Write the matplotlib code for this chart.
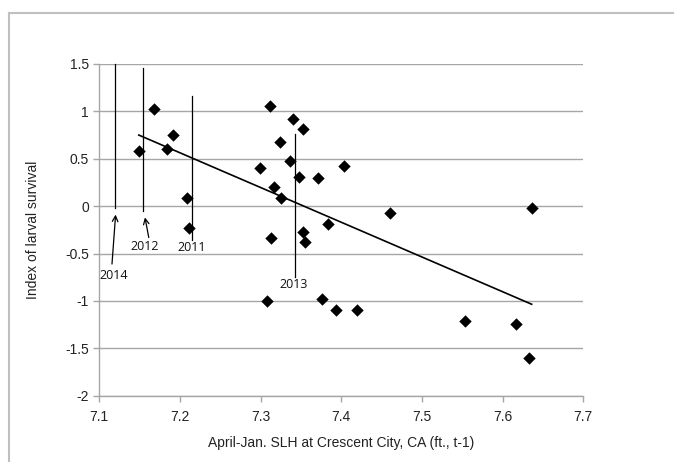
import matplotlib
matplotlib.use('Agg')
import matplotlib.pyplot as plt
from matplotlib.lines import Line2D

plt.rcParams['font.family'] = ['Liberation Sans', 'DejaVu Sans']

# scatter data: April-Jan. SLH (ft.) vs index of larval survival
slh = [7.149, 7.168, 7.191, 7.184, 7.209, 7.211, 7.299, 7.312, 7.324, 7.317,
       7.325, 7.313, 7.337, 7.340, 7.353, 7.347, 7.353, 7.355, 7.371, 7.384,
       7.403, 7.461, 7.636, 7.308, 7.376, 7.393, 7.419, 7.553, 7.616, 7.633]
survival = [0.587, 1.03, 0.747, 0.60, 0.085, -0.226, 0.403, 1.057, 0.679, 0.20,
            0.085, -0.335, 0.477, 0.916, 0.81, 0.312, -0.268, -0.374, 0.30, -0.187,
            0.42, -0.067, -0.024, -0.997, -0.982, -1.092, -1.099, -1.209, -1.248, -1.604]

# linear trend line end points
trend_x = [7.149, 7.636]
trend_y = [0.75, -1.035]

# year markers: x, line top, line bottom, label position
years = ['2014', '2012', '2011', '2013']
year_x = [7.120, 7.1545, 7.215, 7.3425]
year_top = [1.5, 1.457, 1.163, 0.76]
year_bot = [-0.02, -0.046, -0.353, -0.745]
year_lbl_x = [7.118, 7.156, 7.2145, 7.3405]
year_lbl_y = [-0.727, -0.424, -0.44, -0.83]

fig = plt.figure(figsize=(6.74, 4.62), dpi=100)
ax = fig.add_axes([0.1473, 0.1435, 0.7181, 0.718])

gray = '#a6a6a6'
ax.set_xlim(7.1, 7.7)
ax.set_ylim(-2, 1.5)
ax.set_xticks([7.1, 7.2, 7.3, 7.4, 7.5, 7.6, 7.7])
ax.set_xticklabels(['7.1', '7.2', '7.3', '7.4', '7.5', '7.6', '7.7'])
ax.set_yticks([-2, -1.5, -1, -0.5, 0, 0.5, 1, 1.5])
ax.set_yticklabels(['-2', '-1.5', '-1', '-0.5', '0', '0.5', '1', '1.5'])
ax.yaxis.grid(True, color=gray, linewidth=1.0)
ax.set_axisbelow(True)
for s in ['top', 'right']:
    ax.spines[s].set_visible(False)
for s in ['left', 'bottom']:
    ax.spines[s].set_color(gray)
    ax.spines[s].set_linewidth(1.0)
ax.tick_params(axis='both', colors=gray, labelcolor='#222222', labelsize=10,
               length=4, width=1.0, direction='out')
ax.tick_params(axis='x', pad=6)

ax.plot(trend_x, trend_y, color='black', linewidth=1.2, zorder=3)
ax.scatter(slh, survival, marker='D', s=40, color='black', zorder=4, linewidths=0)

# year markers
for i in range(len(years)):
    ax.plot([year_x[i], year_x[i]], [year_top[i], year_bot[i]],
            color='black', linewidth=0.9, zorder=3, clip_on=False)
ax.annotate('', xy=(7.1205, -0.06), xytext=(7.1155, -0.64),
            arrowprops=dict(arrowstyle='->', color='black', lw=0.9))
ax.annotate('', xy=(7.156, -0.09), xytext=(7.162, -0.36),
            arrowprops=dict(arrowstyle='->', color='black', lw=0.9))
for i in range(len(years)):
    ax.text(year_lbl_x[i], year_lbl_y[i], years[i], ha='center', va='center',
            fontsize=9, family=['Open Sans', 'DejaVu Sans'], color='#111111')

ax.set_xlabel('April-Jan. SLH at Crescent City, CA (ft., t-1)', fontsize=10,
              color='#222222', labelpad=9)
ax.set_ylabel('Index of larval survival', fontsize=10, color='#222222', labelpad=18)

# outer frame
fig.add_artist(Line2D([9 / 674, 9 / 674], [0, 1 - 13 / 462], transform=fig.transFigure,
                      color='#c0c0c0', linewidth=1.5))
fig.add_artist(Line2D([9 / 674, 1], [1 - 13 / 462, 1 - 13 / 462], transform=fig.transFigure,
                      color='#c0c0c0', linewidth=1.5))

fig.savefig('out.png', dpi=100)
